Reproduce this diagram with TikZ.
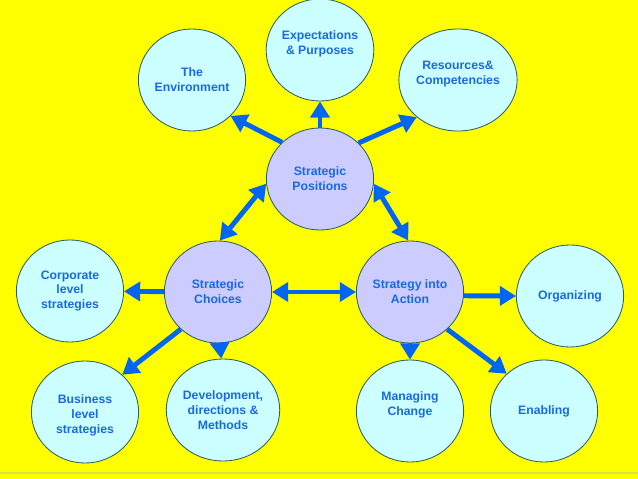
\documentclass[tikz,border=0pt]{standalone}
\usepackage{fontspec}
\setmainfont{Liberation Sans}
\usetikzlibrary{shapes.geometric,arrows.meta}
\definecolor{paper}{RGB}{255,255,0}
\definecolor{seam}{RGB}{215,228,70}
\definecolor{sky}{RGB}{204,255,255}
\definecolor{lilac}{RGB}{204,204,255}
\definecolor{rim}{RGB}{45,95,95}
\definecolor{ink}{RGB}{25,105,225}
\definecolor{flow}{RGB}{0,102,240}
\begin{document}
\begin{tikzpicture}[x=0.025cm,y=-0.025cm,
  bubble/.style={ellipse,draw=rim,fill=sky,line width=0.6pt,inner sep=0pt,
    minimum width=2.68cm,minimum height=2.55cm,align=center,text=ink,
    font=\bfseries\fontsize{8.7}{10.6}\selectfont},
  hub/.style={bubble,fill=lilac},
  link/.style={draw=flow,line width=3.5pt,-{Triangle[length=11.5pt,width=13.5pt]}},
  both/.style={link,{Triangle[length=11.5pt,width=13.5pt]}-{Triangle[length=11.5pt,width=13.5pt]}}]
\fill[paper] (0,0) rectangle (638,479);
\fill[seam] (0,472) rectangle (638,474);
\useasboundingbox (0,0) rectangle (638,479);
% centre
\node[hub] (pos) at (320,179) {Strategic\\Positions};
\node[hub] (cho) at (218,292) {Strategic\\Choices};
\node[hub] (act) at (410,292) {Strategy into\\Action};
% outer ring
\node[bubble] (env) at (192,80) {The\\Environment};
\node[bubble] (exp) at (320,50) {Expectations\\\& Purposes\\~};
\node[bubble] (res) at (458,80) {Resources\&\\Competencies\\~};
\node[bubble] (cor) at (70,291) {Corporate\\level\\strategies};
\node[bubble] (bus) at (85,412) {~\\Business\\level\\strategies};
\node[bubble] (dev) at (223,410) {Development,\\directions \&\\Methods};
\node[bubble] (org) at (570,296) {Organizing};
\node[bubble] (man) at (410,411) {Managing\\Change\\~};
\node[bubble] (ena) at (544,411) {Enabling};
% arrows
\foreach \a/\b in {pos.136/env.-43,pos/exp,pos.43/res.-138,cho/cor,cho.-135/bus.45,
  cho.-88/dev.92,act.-4/org.west,act/man,act.-45/ena.135}
  \draw[link] (\a) -- (\b);
\foreach \a/\b in {pos.185/cho.88,pos.-5/act.92,cho/act}
  \draw[both] (\a) -- (\b);
\end{tikzpicture}
\end{document}
